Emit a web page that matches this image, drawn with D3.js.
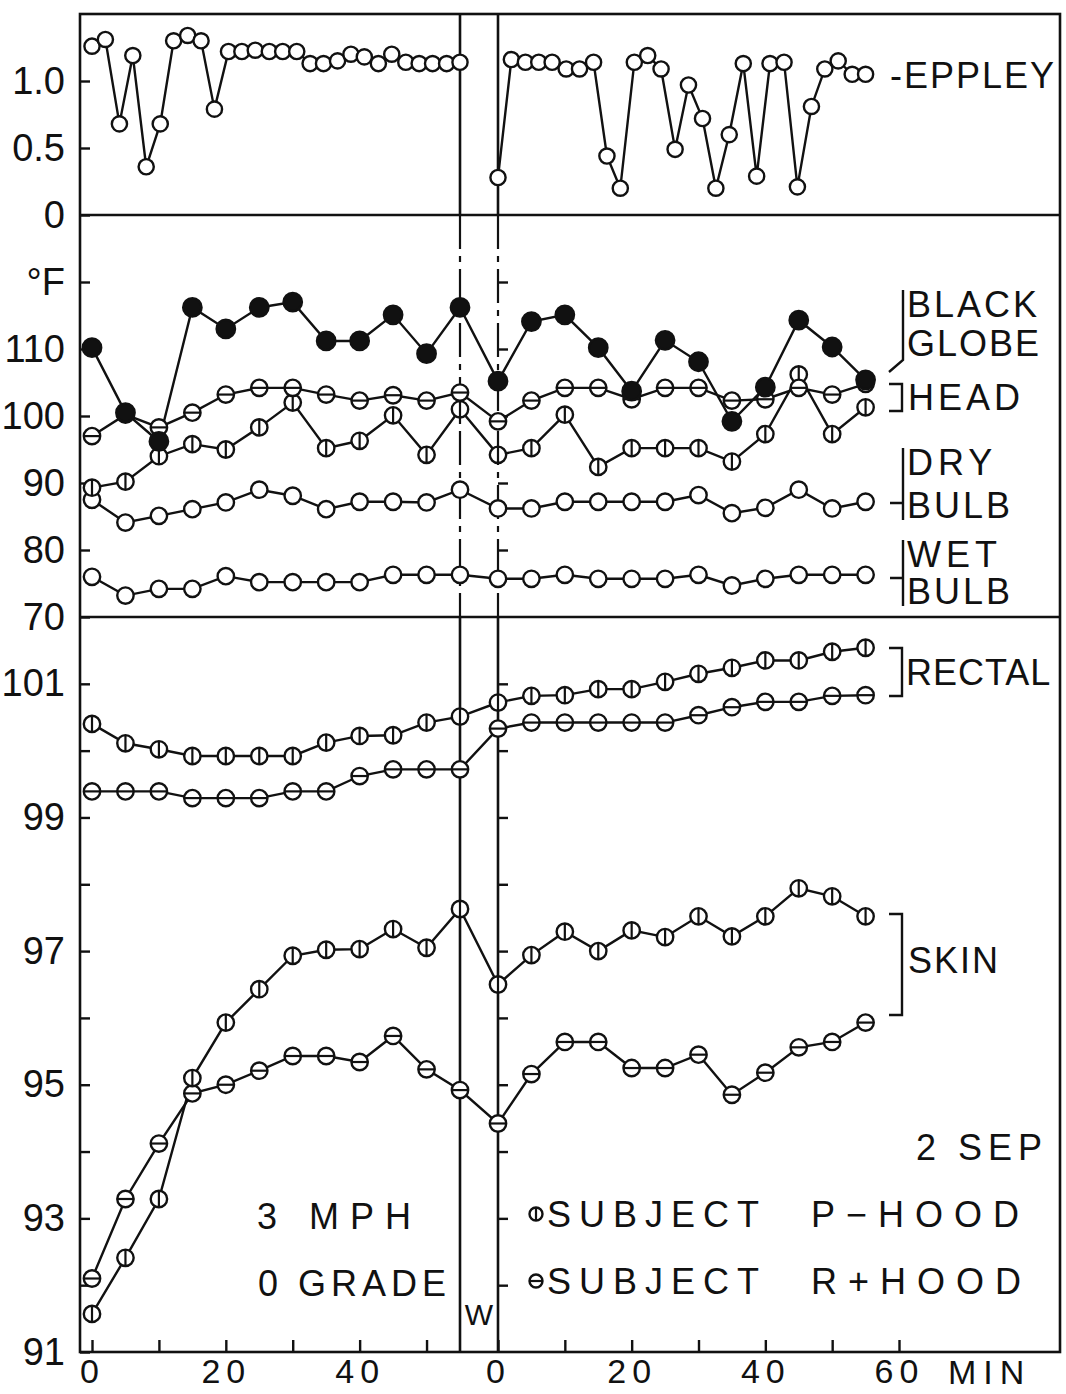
<!DOCTYPE html>
<html>
<head>
<meta charset="utf-8">
<script src="https://cdn.jsdelivr.net/npm/d3@7"></script>
<style>
  body { margin: 0; background: #fff; }
  svg text { font-family: "Liberation Sans", Arial, sans-serif; fill: #111; }
</style>
</head>
<body>
<svg id="svg" width="1066" height="1394"></svg>
<script>
// sampling times (min) before and after the W break
const minutes = [0, 5, 10, 15, 20, 25, 30, 35, 40, 45, 50, 55];
const eppleyMinutes = [0, 2, 4.1, 6.1, 8.1, 10.2, 12.2, 14.3, 16.3, 18.3, 20.4, 22.4, 24.4, 26.5,
  28.5, 30.6, 32.6, 34.6, 36.7, 38.7, 40.7, 42.8, 44.8, 46.9, 48.9, 50.9, 53, 55];

// radiation (Eppley)
const eppleyA = [1.26, 1.31, 0.68, 1.19, 0.36, 0.68, 1.30, 1.34, 1.30, 0.79, 1.22, 1.22, 1.23, 1.22,
  1.22, 1.22, 1.13, 1.13, 1.15, 1.20, 1.18, 1.13, 1.20, 1.14, 1.13, 1.13, 1.13, 1.14];
const eppleyB = [0.28, 1.16, 1.14, 1.14, 1.14, 1.09, 1.09, 1.14, 0.44, 0.20, 1.14, 1.19, 1.09, 0.49,
  0.97, 0.72, 0.20, 0.60, 1.13, 0.29, 1.13, 1.14, 0.21, 0.81, 1.09, 1.15, 1.05, 1.05];

// air / head temperatures, deg F
const globeA = [110.2, 100.5, 96.2, 116.2, 113, 116.2, 117, 111.2, 111.2, 115.1, 109.3, 116.2];
const globeB = [105.2, 114.1, 115.1, 110.2, 103.7, 111.3, 108.1, 99.2, 104.3, 114.3, 110.3, 105.4];
const headRA = [97, 100.2, 98.3, 100.5, 103.2, 104.2, 104.2, 103.2, 102.3, 103.1, 102.3, 103.5];
const headRB = [99.2, 102.3, 104.2, 104.2, 102.5, 104.2, 104.2, 102.3, 102.5, 104.2, 103.2, 104.8];
const headPA = [89.3, 90.2, 94, 95.8, 95, 98.3, 102, 95.2, 96.3, 100.1, 94.2, 101];
const headPB = [94.2, 95.2, 100.2, 92.4, 95.2, 95.2, 95.2, 93.2, 97.3, 106.2, 97.3, 101.3];
const dryA = [87.5, 84.1, 85.1, 86.1, 87.1, 89, 88.1, 86.1, 87.2, 87.2, 87.1, 89];
const dryB = [86.2, 86.2, 87.2, 87.2, 87.2, 87.2, 88.2, 85.5, 86.3, 89, 86.2, 87.2];
const wetA = [76, 73.2, 74.2, 74.2, 76.1, 75.2, 75.2, 75.2, 75.2, 76.3, 76.3, 76.3];
const wetB = [75.7, 75.7, 76.3, 75.7, 75.7, 75.7, 76.3, 74.7, 75.7, 76.3, 76.3, 76.3];

// body temperatures, deg F
const rectalPA = [100.4, 100.11, 100.02, 99.92, 99.92, 99.92, 99.92, 100.12, 100.22, 100.23, 100.42, 100.51];
const rectalPB = [100.72, 100.82, 100.83, 100.92, 100.92, 101.03, 101.15, 101.24, 101.35, 101.35, 101.48, 101.54];
const rectalRA = [99.39, 99.39, 99.39, 99.29, 99.29, 99.29, 99.39, 99.39, 99.62, 99.72, 99.72, 99.72];
const rectalRB = [100.33, 100.42, 100.42, 100.42, 100.42, 100.42, 100.53, 100.65, 100.73, 100.73, 100.82, 100.83];
const skinPA = [91.57, 92.41, 93.29, 95.1, 95.93, 96.43, 96.93, 97.02, 97.03, 97.33, 97.05, 97.63];
const skinPB = [96.5, 96.94, 97.29, 97.0, 97.31, 97.21, 97.52, 97.22, 97.52, 97.94, 97.82, 97.52];
const skinRA = [92.1, 93.29, 94.12, 94.87, 95.0, 95.21, 95.43, 95.43, 95.34, 95.73, 95.23, 94.92];
const skinRB = [94.42, 95.16, 95.64, 95.64, 95.25, 95.25, 95.45, 94.85, 95.18, 95.56, 95.64, 95.93];

const svg = d3.select("#svg");
const INK = "#111";
const x0 = 80, x1 = 1060, y0 = 14, y1 = 1352;

const xA = d3.scaleLinear().domain([0, 55]).range([92, 460]);
const xB = d3.scaleLinear().domain([0, 60]).range([498, 899]);
const yEppley = d3.scaleLinear().domain([0, 1.5]).range([215, y0]);
const yAir = d3.scaleLinear().domain([70, 130]).range([617, 215]);
const yBody = d3.scaleLinear().domain([91, 102]).range([y1, 617]);

const lineGen = d3.line().x(d => d.x).y(d => d.y);

function pts(vals, times, x, y) {
  return vals.map((v, i) => ({ x: x(times[i]), y: y(v) }));
}

function drawSeries(g, points) {
  g.append("path")
    .attr("d", lineGen(points))
    .attr("fill", "none")
    .attr("stroke", INK)
    .attr("stroke-width", 2.4);
}

function drawMarkers(g, points, kind, r) {
  const m = g.append("g").selectAll("g")
    .data(points)
    .join("g")
    .attr("transform", d => `translate(${d.x},${d.y})`);
  m.append("circle")
    .attr("r", r)
    .attr("fill", kind === "filled" ? INK : "#fff")
    .attr("stroke", INK)
    .attr("stroke-width", 2.4);
  if (kind === "P") {
    m.append("line").attr("x1", 0).attr("x2", 0).attr("y1", -r).attr("y2", r)
      .attr("stroke", INK).attr("stroke-width", 2.2);
  }
  if (kind === "R") {
    m.append("line").attr("x1", -r).attr("x2", r).attr("y1", 0).attr("y2", 0)
      .attr("stroke", INK).attr("stroke-width", 2.2);
  }
}

// ---- frame and separators
const frame = svg.append("g").attr("stroke", INK).attr("stroke-width", 2.6).attr("fill", "none");
frame.append("rect").attr("x", x0).attr("y", y0).attr("width", x1 - x0).attr("height", y1 - y0);
frame.append("line").attr("x1", x0).attr("x2", x1).attr("y1", yEppley(0)).attr("y2", yEppley(0));
frame.append("line").attr("x1", x0).attr("x2", x1).attr("y1", yAir(70)).attr("y2", yAir(70));

// W break lines: solid in top and bottom panels, dashed in the middle
[xA(55), xB(0)].forEach(x => {
  frame.append("line").attr("x1", x).attr("x2", x).attr("y1", y0).attr("y2", yEppley(0));
  frame.append("line").attr("x1", x).attr("x2", x).attr("y1", yEppley(0)).attr("y2", yAir(70))
    .attr("stroke-dasharray", "34,7,6,7").attr("stroke-width", 2.2);
  frame.append("line").attr("x1", x).attr("x2", x).attr("y1", yAir(70)).attr("y2", y1);
});

// ---- axes
function styleAxis(g) {
  g.select(".domain").remove();
  g.selectAll(".tick line").attr("stroke", INK).attr("stroke-width", 2.4);
  g.selectAll(".tick text").attr("font-size", 38).attr("fill", INK);
}

svg.append("g").attr("transform", `translate(${x0},0)`)
  .call(d3.axisLeft(yEppley).tickValues([0, 0.5, 1.0]).tickSizeInner(-10).tickSizeOuter(0).tickPadding(15)
    .tickFormat(d => d === 0 ? "0" : d3.format(".1f")(d)))
  .call(styleAxis);

svg.append("g").attr("transform", `translate(${x0},0)`)
  .call(d3.axisLeft(yAir).tickValues([70, 80, 90, 100, 110, 120]).tickSizeInner(-10).tickSizeOuter(0).tickPadding(15)
    .tickFormat(d => d === 120 ? "°F" : d))
  .call(styleAxis);

svg.append("g").attr("transform", `translate(${x0},0)`)
  .call(d3.axisLeft(yBody).tickValues(d3.range(91, 102)).tickSizeInner(-10).tickSizeOuter(0).tickPadding(15)
    .tickFormat(d => d % 2 === 1 ? d : ""))
  .call(styleAxis);

// inward ticks on the right-hand W line
svg.append("g").attr("transform", `translate(${xB(0)},0)`)
  .call(d3.axisRight(yAir).tickValues([80, 90, 100, 110, 120]).tickSizeOuter(0).tickSize(10).tickFormat(""))
  .call(styleAxis);
svg.append("g").attr("transform", `translate(${xB(0)},0)`)
  .call(d3.axisRight(yBody).tickValues(d3.range(92, 102)).tickSizeOuter(0).tickSize(10).tickFormat(""))
  .call(styleAxis);

function styleX(g) {
  styleAxis(g);
  g.selectAll(".tick text").attr("font-size", 34).attr("letter-spacing", 6);
}
svg.append("g").attr("transform", `translate(0,${y1})`)
  .call(d3.axisBottom(xA).tickValues([0, 10, 20, 30, 40, 50]).tickSizeInner(-12).tickSizeOuter(0).tickPadding(7)
    .tickFormat(d => d % 20 === 0 ? d : ""))
  .call(styleX);
svg.append("g").attr("transform", `translate(0,${y1})`)
  .call(d3.axisBottom(xB).tickValues([0, 10, 20, 30, 40, 50, 60]).tickSizeInner(-12).tickSizeOuter(0).tickPadding(7)
    .tickFormat(d => d % 20 === 0 ? d : ""))
  .call(styleX);

// ---- data
const plot = svg.append("g");

// Eppley: not joined across the W break
const epA = pts(eppleyA, eppleyMinutes, xA, yEppley);
const epB = pts(eppleyB, eppleyMinutes, xB, yEppley);
drawSeries(plot, epA);
drawSeries(plot, epB);
drawMarkers(plot, epA, "open", 7.6);
drawMarkers(plot, epB, "open", 7.6);

const airSeries = [
  { a: wetA, b: wetB, kind: "open" },
  { a: dryA, b: dryB, kind: "open" },
  { a: headPA, b: headPB, kind: "P" },
  { a: headRA, b: headRB, kind: "R" },
  { a: globeA, b: globeB, kind: "filled" }
];
const bodySeries = [
  { a: skinRA, b: skinRB, kind: "R" },
  { a: skinPA, b: skinPB, kind: "P" },
  { a: rectalRA, b: rectalRB, kind: "R" },
  { a: rectalPA, b: rectalPB, kind: "P" }
];

function joined(s, y) {
  return pts(s.a, minutes, xA, y).concat(pts(s.b, minutes, xB, y));
}
airSeries.forEach(s => drawSeries(plot, joined(s, yAir)));
bodySeries.forEach(s => drawSeries(plot, joined(s, yBody)));
airSeries.forEach(s => drawMarkers(plot, joined(s, yAir), s.kind, s.kind === "filled" ? 9.2 : 8.2));
bodySeries.forEach(s => drawMarkers(plot, joined(s, yBody), s.kind, 8.2));

// ---- labels
const ann = svg.append("g");
function txt(s, x, y, opts = {}) {
  return ann.append("text")
    .attr("x", x).attr("y", y)
    .attr("dy", "0.36em")
    .attr("font-size", opts.size || 36)
    .attr("letter-spacing", opts.ls || 0)
    .attr("text-anchor", opts.anchor || "start")
    .text(s);
}
const br = svg.append("g").attr("stroke", INK).attr("stroke-width", 2.4).attr("fill", "none");
function path(d) { br.append("path").attr("d", d); }

txt("-EPPLEY", 890, 75, { ls: 2 });

txt("BLACK", 907, 304, { ls: 3 });
txt("GLOBE", 907, 343, { ls: 2 });
path("M903,290 V360 L889,372");

txt("HEAD", 908, 397, { ls: 4 });
path("M889,384 H902 V411 H889");

txt("DRY", 907, 462, { ls: 5 });
txt("BULB", 907, 505, { ls: 3 });
path("M903,448 V520 M890,503 H903");

txt("WET", 907, 554, { ls: 5 });
txt("BULB", 907, 591, { ls: 3 });
path("M903,540 V606 M890,578 H903");

txt("RECTAL", 906, 672, { ls: 1 });
path("M889,648 H902 V696 H889");

txt("SKIN", 908, 960, { ls: 2 });
path("M889,914 H902 V1015 H889");

txt("2 SEP", 1048, 1147, { ls: 6, anchor: "end" });
txt("3 MPH", 257, 1216, { ls: 11 });
txt("0 GRADE", 258, 1283, { ls: 5 });

const legendRows = [
  { y: 1214, kind: "P", who: "SUBJECT", hood: "P\u2212HOOD" },
  { y: 1281, kind: "R", who: "SUBJECT", hood: "R+HOOD" }
];
legendRows.forEach(r => {
  drawMarkers(ann, [{ x: 536, y: r.y }], r.kind, 6.5);
  txt(r.who, 547, r.y, { ls: 8 });
  txt(r.hood, 811, r.y, { ls: 11 });
});

txt("W", 479, 1314, { size: 30, anchor: "middle" });
txt("MIN", 948, 1372, { ls: 7, size: 34 });
</script>
</body>
</html>
